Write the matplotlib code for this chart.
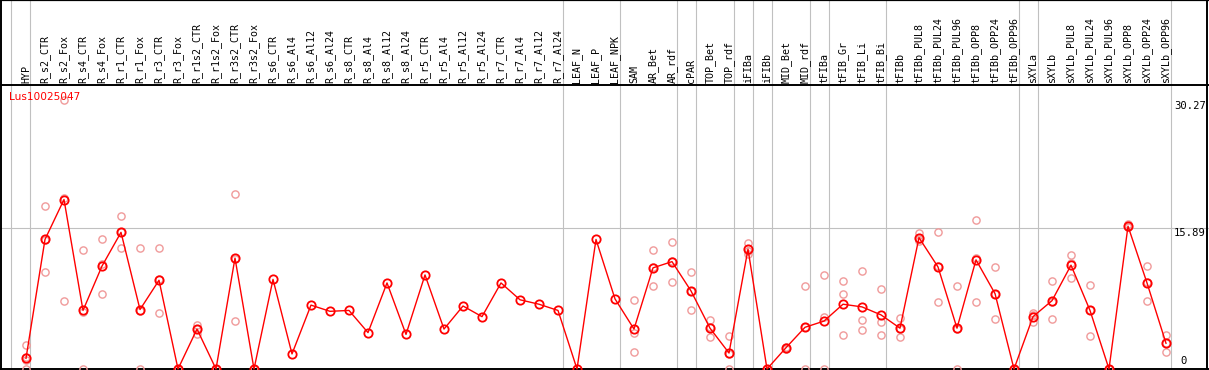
import matplotlib
matplotlib.use("Agg")
import matplotlib.pyplot as plt

# noms des echantillons (colonnes)
samples = ["HYP", "R_s2_CTR", "R_s2_Fox", "R_s4_CTR", "R_s4_Fox", "R_r1_CTR", "R_r1_Fox",
           "R_r3_CTR", "R_r3_Fox", "R_r1s2_CTR", "R_r1s2_Fox", "R_r3s2_CTR", "R_r3s2_Fox",
           "R_s6_CTR", "R_s6_Al4", "R_s6_Al12", "R_s6_Al24", "R_s8_CTR", "R_s8_Al4",
           "R_s8_Al12", "R_s8_Al24", "R_r5_CTR", "R_r5_Al4", "R_r5_Al12", "R_r5_Al24",
           "R_r7_CTR", "R_r7_Al4", "R_r7_Al12", "R_r7_Al24", "LEAF_N", "LEAF_P", "LEAF_NPK",
           "SAM", "AR_Bet", "AR_rdf", "cPAR", "TOP_Bet", "TOP_rdf", "iFIBa", "iFIBb",
           "MID_Bet", "MID_rdf", "tFIBa", "tFIB_Gr", "tFIB_Li", "tFIB_Bi", "tFIBb",
           "tFIBb_PUL8", "tFIBb_PUL24", "tFIBb_PUL96", "tFIBb_OPP8", "tFIBb_OPP24", "tFIBb_OPP96",
           "sXYLa", "sXYLb", "sXYLb_PUL8", "sXYLb_PUL24", "sXYLb_PUL96", "sXYLb_OPP8",
           "sXYLb_OPP24", "sXYLb_OPP96"]

# moyennes
means = [1.2, 14.6, 19.1, 6.6, 11.6, 15.4, 6.7, 10.0, 0, 4.5, 0, 12.5, 0,
         10.1, 1.7, 7.2, 6.5, 6.6, 4.1, 9.7, 3.9, 10.6, 4.5, 7.1, 5.9,
         9.7, 7.8, 7.3, 6.6, 0, 14.6, 7.9,
         4.5, 11.4, 12.1, 8.8, 4.6, 1.8, 13.5, 0,
         2.4, 4.7, 5.4, 7.3, 7.0, 6.1, 4.6,
         14.8, 11.5, 4.6, 12.3, 8.5, 0,
         5.9, 7.7, 11.7, 6.6, 0, 16.1, 9.7, 2.9]

# replicats
reps = [[2.7, 1.4, 1.0, 0], [18.4, 10.9, 14.5], [30.27, 7.7, 19.3], [13.4, 0, 6.4],
        [14.6, 8.4, 11.8], [17.2, 13.6, 15.4], [13.6, 0, 6.5], [13.6, 6.3, 10.1],
        [0, 0, 0], [5.0, 4.0, 4.5], [0, 0, 0], [19.7, 5.4, 12.4], [0, 0, 0],
        [], [], [], [], [], [], [], [], [], [], [], [], [], [], [], [], [], [], [],
        [7.8, 4.1, 1.95], [13.4, 9.3, 11.5], [14.3, 9.8, 12.2], [10.9, 6.7, 8.8],
        [5.5, 3.6, 4.7], [3.7, 0, 1.7], [14.2, 13.0, 13.3], [0, 0, 0],
        [2.5, 2.3, 2.4], [9.4, 0, 4.7], [10.6, 5.9, 0], [9.9, 8.4, 3.8],
        [11.0, 5.5, 4.4], [9.0, 5.3, 3.8], [5.7, 3.6, 4.5],
        [15.3, 14.7, 14.4], [15.4, 7.5, 11.6], [9.3, 0, 4.5], [16.8, 7.6, 12.5],
        [11.5, 5.6, 8.4], [0, 0, 0],
        [6.3, 5.3, 6.1], [9.9, 5.6, 7.6], [12.9, 10.3, 11.9], [9.5, 3.7, 6.6],
        [0, 0, 0], [16.3, 16.0, 16.0], [11.6, 7.7, 9.8], [3.8, 1.95, 2.9]]

separations = [-1, 0, 28, 31, 34, 35, 37, 38, 39, 41, 42, 45, 52, 53, 60]
ymax_label = 30.27
ymid_label = 15.89

W, H = 1209, 370
fig = plt.figure(figsize=(W / 100, H / 100), dpi=100)
ax = fig.add_axes([0, 0, 1, 1])
ax.axis("off")

# echelle : colonne i -> 26 + 19*i px, valeur v -> 369 - 8.873*v px
sx = 19.0
sy = 141.0 / ymid_label
ax.set_xlim(-26 / sx, (W - 26) / sx)
ax.set_ylim(-(H - 369) / sy, 369 / sy)
ytop = 369 / sy
yhead = (369 - 85) / sy

gris = "#c0c0c0"
for s in separations:
    ax.axvline(s + 4.5 / sx, color=gris, lw=0.8, zorder=1)
ax.axhline(ymid_label, color=gris, lw=0.8, zorder=1)

# cadre
ax.axhline(yhead, color="black", lw=1.4, zorder=2)
ax.axhline(0, color="black", lw=1.4, zorder=2)
ax.axhline(ytop, color="black", lw=1.6, zorder=2, clip_on=False)
ax.axvline((1 - 26) / sx, color="black", lw=1.4, zorder=2)
ax.axvline((1207 - 26) / sx, color="black", lw=1.4, zorder=2)

x = list(range(len(samples)))
for i, r in enumerate(reps):
    if r:
        ax.plot([i] * len(r), r, "o", ms=5.2, mfc="none", mec="#f09a9a", mew=1.0, zorder=3)
ax.plot(x, means, "-", color="red", lw=1.0, zorder=4)
ax.plot(x, means, "o", ms=6, mfc="none", mec="red", mew=1.3, zorder=5)

for i, s in enumerate(samples):
    ax.text(i, yhead + 2 / sy, s, rotation=90, ha="center", va="bottom",
            family="DejaVu Sans Mono", fontsize=7.2, color="black")

ax.text((9 - 26) / sx, (369 - 97) / sy, "Lus10025047", color="red",
        fontsize=7.6, ha="left", va="center", family="DejaVu Sans")

xr = (1206 - 26) / sx
ax.text(xr, ymax_label - 1 / sy, "%.2f" % ymax_label, ha="right", va="top",
        family="DejaVu Sans Mono", fontsize=7.6)
ax.text(xr, ymid_label - 0.3 / sy, "%.2f" % ymid_label, ha="right", va="top",
        family="DejaVu Sans Mono", fontsize=7.6)
ax.text((1180 - 26) / sx, 3 / sy, "0", ha="left", va="bottom",
        family="DejaVu Sans Mono", fontsize=7.6)

fig.savefig("out.png", dpi=100)
